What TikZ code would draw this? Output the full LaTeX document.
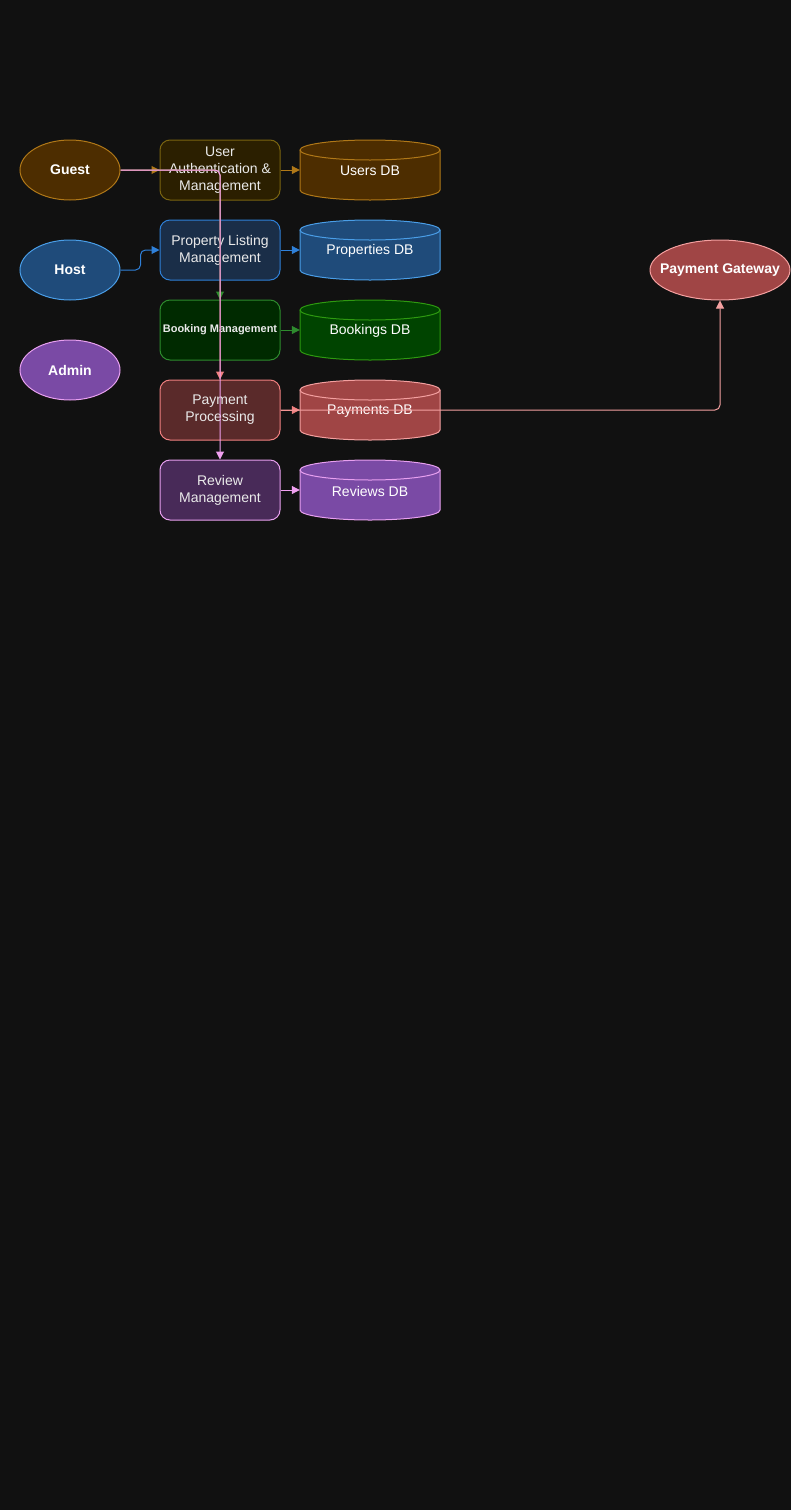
\documentclass[tikz,border=0pt]{standalone}
\usepackage{fontspec}
\setmainfont{Liberation Sans}
\usetikzlibrary{shapes.geometric,arrows.meta}

\definecolor{bg}{HTML}{111111}
\definecolor{txt}{HTML}{EAEAEA}
\definecolor{usrFill}{HTML}{4D2D00}
\definecolor{usrLine}{HTML}{B07818}
\definecolor{authFill}{HTML}{2B1F00}
\definecolor{authLine}{HTML}{7A6410}
\definecolor{propFill}{HTML}{1F4B7A}
\definecolor{propLine}{HTML}{4A9EE8}
\definecolor{plmFill}{HTML}{1A2E48}
\definecolor{plmLine}{HTML}{2F80D8}
\definecolor{bkFill}{HTML}{002A00}
\definecolor{bkLine}{HTML}{2E8B2E}
\definecolor{bkdbFill}{HTML}{004400}
\definecolor{bkdbLine}{HTML}{2E9A10}
\definecolor{payFill}{HTML}{5A2A2A}
\definecolor{payLine}{HTML}{F08080}
\definecolor{paydbFill}{HTML}{A04545}
\definecolor{paydbLine}{HTML}{F4A0A0}
\definecolor{revFill}{HTML}{482A58}
\definecolor{revLine}{HTML}{E8A0F0}
\definecolor{revdbFill}{HTML}{7A4AA5}
\definecolor{pinkLine}{HTML}{F0A0F0}

% cylinder: x, y, fill, line
\newcommand{\dbcyl}[4]{%
  \filldraw[fill=#3,draw=#4,line width=1pt] (#1-70,#2+20) -- (#1-70,#2-20)
    arc[start angle=180,end angle=360,x radius=70,y radius=10] -- (#1+70,#2+20)
    arc[start angle=0,end angle=180,x radius=70,y radius=10] -- cycle;
  \draw[#4,line width=1pt] (#1-70,#2+20) arc[start angle=180,end angle=360,x radius=70,y radius=10];
}

\begin{document}
\begin{tikzpicture}[x=1pt,y=1pt,
    font=\fontsize{14}{17}\selectfont,
    actor/.style={ellipse,draw,line width=1pt,minimum width=100pt,minimum height=60pt,inner sep=0pt,text=white,font=\fontsize{14}{17}\selectfont\bfseries},
    svc/.style={rectangle,draw,line width=1pt,rounded corners=10pt,minimum width=120pt,minimum height=60pt,inner sep=1pt,align=center,text=txt},
    db/.style={minimum width=140pt,minimum height=60pt,inner sep=0pt,text=white,yshift=-1pt},
    link/.style={line width=1pt,-{Triangle[length=8pt,width=8pt]},rounded corners=5pt}]
    \fill[bg] (0,0) rectangle (791,-1510);
    % actors
    \node[actor,fill=usrFill,draw=usrLine] (guest) at (70,-170) {Guest};
    \node[actor,fill=propFill,draw=propLine] (host) at (70,-270) {Host};
    \node[actor,fill=revdbFill,draw=revLine] (admin) at (70,-370) {Admin};
    \node[actor,fill=paydbFill,draw=paydbLine,minimum width=140pt,inner xsep=-11pt] (gate) at (720,-270) {Payment Gateway};
    % services
    \node[svc,fill=authFill,draw=authLine] (auth) at (220,-170) {User\\Authentication \&\\Management};
    \node[svc,fill=plmFill,draw=plmLine] (plm) at (220,-250) {Property Listing\\Management};
    \node[svc,fill=bkFill,draw=bkLine,font=\fontsize{11}{13}\selectfont\bfseries] (book) at (220,-330) {Booking Management};
    \node[svc,fill=payFill,draw=payLine] (pay) at (220,-410) {Payment\\Processing};
    \node[svc,fill=revFill,draw=revLine] (rev) at (220,-490) {Review\\Management};
    % databases
    \dbcyl{370}{-170}{usrFill}{usrLine}
    \dbcyl{370}{-250}{propFill}{propLine}
    \dbcyl{370}{-330}{bkdbFill}{bkdbLine}
    \dbcyl{370}{-410}{paydbFill}{paydbLine}
    \dbcyl{370}{-490}{revdbFill}{revLine}
    \node[db] (udb) at (370,-170) {Users DB};
    \node[db] (pdb) at (370,-250) {Properties DB};
    \node[db] (bdb) at (370,-330) {Bookings DB};
    \node[db] (paydb) at (370,-410) {Payments DB};
    \node[db] (rdb) at (370,-490) {Reviews DB};
    % links
    \draw[link,usrLine] (guest) -- (auth);
    \draw[link,bkLine] (guest.east) -| (book.north);
    \draw[link,payLine] (guest.east) -| (pay.north);
    \draw[link,pinkLine] (guest.east) -| (rev.north);
    \draw[link,plmLine] (host.east) -- ++(20,0) |- (plm.west);
    \draw[link,usrLine] (auth) -- (udb.west |- auth);
    \draw[link,plmLine] (plm) -- (pdb.west |- plm);
    \draw[link,bkLine] (book) -- (bdb.west |- book);
    \draw[link,payLine] (pay) -- (paydb.west |- pay);
    \draw[link,paydbLine] (pay.east) -| (gate.south);
    \draw[link,pinkLine] (rev) -- (rdb.west |- rev);
\end{tikzpicture}
\end{document}
